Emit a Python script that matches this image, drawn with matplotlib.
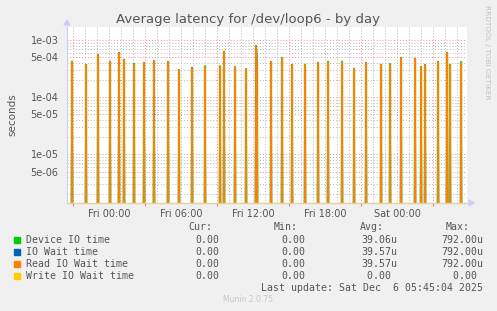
import numpy as np
import matplotlib
matplotlib.use('Agg')
import matplotlib.pyplot as plt
from matplotlib.patches import Rectangle


# --- spike times (hours relative to Fri 00:00) and values (seconds)
spike_hours = [-3.06, -1.89, -0.89, 0.11, 0.86, 1.28, 2.06, 2.94, 3.78, 4.94,
               5.81, 6.94, 8.03, 9.28, 9.61, 10.53, 11.39, 12.22, 12.36, 13.53,
               14.44, 15.28, 16.36, 17.44, 18.28, 19.44, 20.44, 21.44, 22.69, 23.44,
               24.36, 25.53, 26.03, 26.36, 27.44, 28.19, 28.44, 29.31]

read_wait = [4.05e-4, 3.68e-4, 5.5e-4, 4.15e-4, 5.96e-4, 4.5e-4, 3.6e-4, 4.0e-4, 4.3e-4, 4.15e-4,
             3.0e-4, 3.27e-4, 3.35e-4, 3.35e-4, 6.2e-4, 3.35e-4, 3.1e-4, 7.92e-4, 3.35e-4, 4.15e-4,
             4.7e-4, 3.68e-4, 3.6e-4, 4.0e-4, 4.05e-4, 3.9e-4, 3.15e-4, 4.0e-4, 3.68e-4, 3.6e-4,
             4.87e-4, 4.7e-4, 3.35e-4, 3.68e-4, 4.15e-4, 5.96e-4, 3.68e-4, 3.9e-4]

device_time = [4.2e-4, 3.68e-4, 5.5e-4, 4.15e-4, 5.96e-4, 4.5e-4, 3.83e-4, 4.0e-4, 4.3e-4, 4.15e-4,
               3.0e-4, 3.27e-4, 3.5e-4, 3.5e-4, 6.2e-4, 3.35e-4, 3.1e-4, 7.92e-4, 4.15e-4, 4.15e-4,
               4.9e-4, 3.68e-4, 3.7e-4, 4.0e-4, 4.2e-4, 4.2e-4, 3.15e-4, 4.0e-4, 3.68e-4, 3.83e-4,
               4.87e-4, 4.7e-4, 3.35e-4, 3.68e-4, 4.15e-4, 5.96e-4, 3.68e-4, 4.2e-4]

legend_names = ['Device IO time', 'IO Wait time', 'Read IO Wait time', 'Write IO Wait time']
legend_colors = ['#00cc00', '#0066b3', '#ff8000', '#ffcc00']
cur_vals = ['0.00', '0.00', '0.00', '0.00']
min_vals = ['0.00', '0.00', '0.00', '0.00']
avg_vals = ['39.06u', '39.57u', '39.57u', '0.00 ']
max_vals = ['792.00u', '792.00u', '792.00u', '0.00 ']

x_labels = ['Fri 00:00', 'Fri 06:00', 'Fri 12:00', 'Fri 18:00', 'Sat 00:00']
y_ticks = [1e-3, 5e-4, 1e-4, 5e-5, 1e-5, 5e-6]
y_labels = ['1e-03', '5e-04', '1e-04', '5e-05', '1e-05', '5e-06']


# --- 5 minute samples across the 'day' window
t0, t1 = -3.5, 29.83
n = 400
t = t0 + np.arange(n) / 12.

def series(vals):
    s = np.zeros(n)
    for h, v in zip(spike_hours, vals):
        s[int(round((h - t0) * 12))] = v
    return s

dev = series(device_time)
rd = series(read_wait)
floor = 1e-12  # zero is off the bottom of a log axis

W, H = 497, 311
fig = plt.figure(figsize=(W/100, H/100), dpi=100, facecolor='#f0f0f0')
ax = fig.add_axes((67/W, 1-203/H, 400/W, 176/H), facecolor='white')

ax.fill_between(t, floor, np.maximum(dev, floor), color='#8a9a30', alpha=0.35, lw=0)
ax.plot(t, np.maximum(dev, floor), c='#00cc00', lw=1.6, alpha=0.7)
ax.plot(t, np.maximum(rd, floor), c='#0066b3', lw=1.2)
ax.plot(t, np.maximum(rd, floor), c='#ff8000', lw=1.2)

ax.set_yscale('log')
ax.set_xlim(t0, t1)
ax.set_ylim(1.41e-6, 1.69e-3)

# --- grid: grey minor, red major
ax.set_xticks(np.arange(-3, 30, 6))
ax.set_xticks(np.arange(-3, 30, 1), minor=True)
ax.set_xticklabels([])
ax.set_yticks(y_ticks)
ax.set_yticklabels(y_labels)
ax.yaxis.set_minor_locator(matplotlib.ticker.LogLocator(subs=np.arange(2, 10)))
ax.yaxis.set_minor_formatter(matplotlib.ticker.NullFormatter())
ax.grid(which='minor', color='#b8b8b8', ls=(0, (1, 2)), lw=0.7)
ax.grid(which='major', color='#e89090', ls=(0, (1, 2)), lw=0.7)
ax.set_axisbelow(True)

ax.tick_params(axis='y', which='both', length=0, labelsize=7, labelcolor='#555555', pad=6)
ax.tick_params(axis='x', which='major', length=2, color='#e08080', direction='out')
ax.tick_params(axis='x', which='minor', length=0)

for x, lab in zip(range(0, 25, 6), x_labels):
    ax.text(x, -0.035, lab, transform=ax.get_xaxis_transform(), ha='center', va='top',
            fontsize=7, color='#555555')

for s in ['top', 'right']:
    ax.spines[s].set_visible(False)
ax.spines['left'].set_color('#ccccff')
ax.spines['bottom'].set_color('#e8d098')
ax.spines['left'].set_linewidth(0.8)
ax.spines['bottom'].set_linewidth(1.0)

# --- axis arrows
fig.patches.append(plt.Polygon([(64/W, 1-25/H), (70/W, 1-25/H), (67/W, 1-20/H)],
                               closed=True, transform=fig.transFigure, color='#ccccff'))
fig.patches.append(plt.Polygon([(469/W, 1-200/H), (469/W, 1-206/H), (474/W, 1-203/H)],
                               closed=True, transform=fig.transFigure, color='#ccccff'))

# --- text
fig.text(248/W, 1-19/H, 'Average latency for /dev/loop6 - by day', ha='center', va='center',
         fontsize=9.5, color='#555555')
fig.text(12/W, 1-115/H, 'seconds', rotation=90, ha='center', va='center', fontsize=7.5, color='#555555')
fig.text(487/W, 1-5/H, 'RRDTOOL / TOBI OETIKER', rotation=270, ha='center', va='top',
         fontsize=5.3, color='#c0c0c0')

mono = dict(family='DejaVu Sans Mono', fontsize=7.1, color='#555555', va='center')
fig.text(212/W, 1-227/H, 'Cur:', ha='right', **mono)
fig.text(298/W, 1-227/H, 'Min:', ha='right', **mono)
fig.text(384/W, 1-227/H, 'Avg:', ha='right', **mono)
fig.text(470/W, 1-227/H, 'Max:', ha='right', **mono)

for i, name in enumerate(legend_names):
    y = 239.7 + 12*i
    fig.patches.append(Rectangle((14/W, 1-(y+3)/H), 6/W, 6/H, transform=fig.transFigure,
                                 color=legend_colors[i]))
    fig.text(26/W, 1-y/H, name, ha='left', **mono)
    fig.text(219/W, 1-y/H, cur_vals[i], ha='right', **mono)
    fig.text(305/W, 1-y/H, min_vals[i], ha='right', **mono)
    fig.text(397/W, 1-y/H, avg_vals[i], ha='right', **mono)
    fig.text(483/W, 1-y/H, max_vals[i], ha='right', **mono)

fig.text(483/W, 1-287.7/H, 'Last update: Sat Dec  6 05:45:04 2025', ha='right', **mono)
fig.text(248/W, 1-300/H, 'Munin 2.0.75', ha='center', va='center', fontsize=5.5, color='#c8c8c8')

fig.savefig('out.png', dpi=100, facecolor=fig.get_facecolor())
